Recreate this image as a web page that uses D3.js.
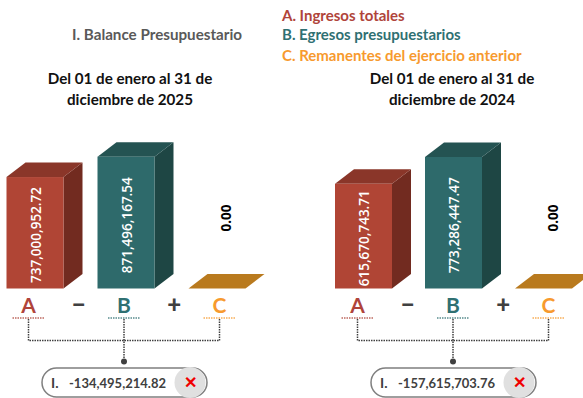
<!DOCTYPE html>
<html>
<head>
<meta charset="utf-8">
<script src="https://cdn.jsdelivr.net/npm/d3@7"></script>
<style>
  html, body { margin: 0; padding: 0; background: #fff; }
  svg { display: block; }
  text { font-family: Lato, sans-serif; }
</style>
</head>
<body>
<div id="chart"></div>
<script>
const categories = ['A', 'B', 'C'];
const values2025 = [737000952.72, 871496167.54, 0];
const values2024 = [615670743.71, 773286447.47, 0];
const balances = [-134495214.82, -157615703.76];
const periods = [
  ['Del 01 de enero al 31 de', 'diciembre de 2025'],
  ['Del 01 de enero al 31 de', 'diciembre de 2024']
];
const legendLabels = ['A. Ingresos totales', 'B. Egresos presupuestarios', 'C. Remanentes del ejercicio anterior'];
const operators = ['−', '+'];

const frontColors = { A: '#b04535', B: '#2e6a6b', C: '#b97a1e' };
const topColors = { A: '#8a3629', B: '#245352', C: '#b97a1e' };
const sideColors = { A: '#722b20', B: '#1e4644', C: '#b97a1e' };
const letterColors = { A: '#b0443a', B: '#2f7072', C: '#f79a2e' };

const width = 583, height = 398;
const baseY = 288.5;
const depthX = 19, depthY = 14.5;

const svg = d3.select('#chart').append('svg').attr('width', width).attr('height', height);
// the picture uses a plain hyphen for negatives
const fmt = (v) => d3.format(',.2f')(v).replace('−', '-');

// header
svg.append('text').attr('x', 72).attr('y', 40).attr('font-size', 15.2).attr('font-weight', 700)
  .attr('fill', '#595959').text('I. Balance Presupuestario');
svg.selectAll('.legend').data(legendLabels).enter().append('text')
  .attr('class', 'legend')
  .attr('x', 282)
  .attr('y', (d, i) => [21, 40, 61][i])
  .attr('font-size', 15)
  .attr('font-weight', 700)
  .attr('fill', (d, i) => letterColors[categories[i]])
  .text((d) => d);

function drawPanel(cfg) {
  const g = svg.append('g');
  const x = d3.scaleBand().domain(categories).range([cfg.x0, cfg.x0 + cfg.span]).paddingInner(cfg.pad);
  const y = d3.scaleLinear().domain([0, d3.max(cfg.values)]).range([baseY, baseY - cfg.maxH]);
  // the formula row below the bars has its own spacing
  const lx = d3.scalePoint().domain(categories).range(cfg.letters);
  const bw = x.bandwidth();
  const rows = categories.map((c, i) => ({ c, v: cfg.values[i], lx: x(c), top: y(cfg.values[i]) }));

  g.selectAll('.title').data(cfg.period).enter().append('text')
    .attr('x', cfg.titleX).attr('y', (d, i) => 84 + i * 21)
    .attr('text-anchor', 'middle').attr('font-size', 15.2).attr('font-weight', 700)
    .attr('fill', '#111').text((d) => d);

  // zero-height bars only show the top face
  g.selectAll('.side').data(rows.filter((r) => r.v > 0)).enter().append('path')
    .attr('fill', (r) => sideColors[r.c])
    .attr('d', (r) => `M${r.lx + bw},${r.top}l${depthX},${-depthY}V${baseY - depthY}l${-depthX},${depthY}Z`);
  g.selectAll('.top').data(rows).enter().append('path')
    .attr('fill', (r) => topColors[r.c])
    .attr('d', (r) => `M${r.lx},${r.top}l${depthX},${-depthY}h${bw}l${-depthX},${depthY}Z`);
  g.selectAll('.front').data(rows.filter((r) => r.v > 0)).enter().append('rect')
    .attr('x', (r) => r.lx).attr('y', (r) => r.top)
    .attr('width', bw).attr('height', (r) => baseY - r.top)
    .attr('fill', (r) => frontColors[r.c]);

  // value labels, rotated
  g.selectAll('.val').data(rows).enter().append('text')
    .attr('transform', (r) => {
      const px = r.v > 0 ? r.lx + bw / 2 + 1 : r.lx + 38;
      const py = r.v > 0 ? baseY - (baseY - r.top) * 0.48 : 218;
      return `translate(${px},${py}) rotate(-90)`;
    })
    .attr('text-anchor', 'middle').attr('dy', '0.35em')
    .attr('font-size', 13.5).attr('font-weight', (r) => (r.v > 0 ? 600 : 700))
    .attr('fill', (r) => (r.v > 0 ? '#fff' : '#000'))
    .style('font-family', '"Open Sans", sans-serif')
    .text((r) => fmt(r.v));

  // letters and underlines
  g.selectAll('.letter').data(categories).enter().append('text')
    .attr('x', lx).attr('y', 313)
    .attr('text-anchor', 'middle').attr('font-size', 21).attr('font-weight', 700)
    .attr('fill', (c) => letterColors[c]).text((c) => c);
  g.selectAll('.under').data(categories).enter().append('line')
    .attr('x1', (c) => lx(c) - 16).attr('x2', (c) => lx(c) + 16)
    .attr('y1', 318).attr('y2', 318)
    .attr('stroke', (c) => letterColors[c]).attr('stroke-width', 1.5)
    .attr('stroke-dasharray', '1.5 1').attr('opacity', 0.8);

  // operators between letters
  g.selectAll('.op').data(operators).enter().append('text')
    .attr('x', (d, i) => (lx(categories[i]) + lx(categories[i + 1])) / 2 + 2.5)
    .attr('y', 313).attr('text-anchor', 'middle')
    .attr('font-size', 24).attr('font-weight', 900).attr('fill', '#404040').text((d) => d);

  // connector
  const bx = lx('B');
  g.append('path')
    .attr('d', `M${lx('A')},319V340.5H${lx('C')}V319M${bx},319V361`)
    .attr('fill', 'none').attr('stroke', '#404040').attr('stroke-width', 1.5).attr('stroke-dasharray', '1.5 1');
  g.append('circle').attr('cx', bx).attr('cy', 361.5).attr('r', 3).attr('fill', '#404040');

  // result pill
  const pillX = bx - 82;
  g.append('rect').attr('x', pillX).attr('y', 368).attr('width', 165).attr('height', 29).attr('rx', 14.5)
    .attr('fill', '#fff').attr('stroke', '#7f7f7f').attr('stroke-width', 1.5);
  g.append('circle').attr('cx', pillX + 148).attr('cy', 382.5).attr('r', 15.5).attr('fill', '#e0e0e0');
  g.append('text').attr('x', pillX + 9).attr('y', 388).attr('font-size', 14).attr('font-weight', 700)
    .attr('fill', '#404040').text('I.');
  g.append('text').attr('x', pillX + 27).attr('y', 387.5).attr('font-size', 13).attr('font-weight', 700)
    .attr('fill', '#404040').text(fmt(cfg.balance));
  g.append('text').attr('x', pillX + 148).attr('y', 388).attr('text-anchor', 'middle')
    .attr('font-size', 16).attr('font-weight', 900).attr('fill', '#f00000').text('✕');
}

drawPanel({ x0: 6.5, span: 239, pad: 34 / 91, maxH: 131.8, values: values2025, period: periods[0], balance: balances[0], titleX: 130, letters: [28.5, 219.5] });
drawPanel({ x0: 335, span: 237, pad: 33 / 90, maxH: 131.5, values: values2024, period: periods[1], balance: balances[1], titleX: 452, letters: [357.5, 548.5] });
</script>
</body>
</html>
